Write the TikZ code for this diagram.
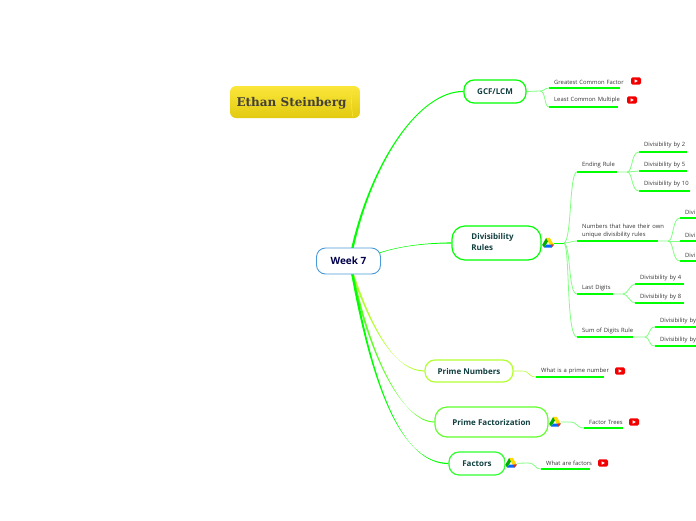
\documentclass[tikz,border=0pt]{standalone}
\usepackage{fontspec}
\setmainfont{Open Sans}
\newfontfamily\slabfont{DejaVu Serif}
\usetikzlibrary{backgrounds,calc}
\definecolor{lime}{HTML}{00FF00}
\definecolor{soft}{HTML}{80FF80}
\definecolor{teal}{HTML}{123F40}
\definecolor{yg}{HTML}{B4FF33}
\definecolor{mg}{HTML}{60FF28}
\definecolor{fg}{HTML}{30FF30}
\definecolor{capt}{HTML}{FBE63A}
\definecolor{capm}{HTML}{F5DC24}
\definecolor{capb}{HTML}{E2CA10}
\definecolor{weekb}{HTML}{4A9AD8}
\tikzset{
  x=1pt,y=-1pt,
  topic/.style={draw=#1,line width=1.2pt,rounded corners=10pt,fill=white,text=teal,inner sep=0pt,font=\fontsize{8}{11}\selectfont\bfseries},
  conn/.style={draw=#1,line width=.8pt},
  leafbox/.style={inner ysep=3.4pt,inner xsep=5pt,anchor=south west,align=left,font=\fontsize{5.85}{8}\selectfont,text=black!80},
  leafline/.style={draw=lime,line width=1.6pt},
}
% tapered connector: filled, wide at its start
\newcommand{\taper}[5]{\fill[#5] ($(#1)+(-1.2,0)$) .. controls ($(#2)+(-.7,0)$) and ($(#3)+(-.3,-.3)$) .. ($(#4)+(0,-.6)$) -- ($(#4)+(0,.6)$) .. controls ($(#3)+(.3,.3)$) and ($(#2)+(.7,0)$) .. ($(#1)+(1.2,0)$) -- cycle;}
\newcommand{\leaf}[5]{\node[leafbox,text width=#3-#2-10pt] (#1) at (#2,#4) {#5};
  \draw[leafline] (#1.south west) -- (#1.south east);}
\newcommand{\yt}[2]{\fill[red!95!black,rounded corners=1.5pt] (#1-5,#2-3.6) rectangle (#1+5,#2+3.6);
  \fill[white] (#1-1.4,#2-1.7) -- (#1+1.9,#2) -- (#1-1.4,#2+1.7) -- cycle;}
\newcommand{\drive}[2]{%
  \fill[white] (#1-6,#2-6) rectangle (#1+6,#2+6);
  \fill[green!60!black!80!lime] (#1-1.8,#2-5.2) -- (#1-5.8,#2+2) -- (#1-3.8,#2+4.6) -- (#1+.2,#2-2) -- cycle;
  \fill[orange!30!yellow] (#1-1.8,#2-5.2) -- (#1+1.8,#2-5.2) -- (#1+5.8,#2+1.8) -- (#1+1.6,#2+1.8) -- cycle;
  \fill[blue!60!cyan] (#1-3.8,#2+4.6) -- (#1+3.6,#2+4.6) -- (#1+5.8,#2+1.6) -- (#1-1.8,#2+1.6) -- cycle;
  \fill[red!75!orange] (#1+3.6,#2+4.6) -- (#1+5.8,#2+1.6) -- (#1+3,#2+1.6) -- cycle;}
\begin{document}
\begin{tikzpicture}
\useasboundingbox (0,0) rectangle (696,520);
% title capsule
\shade[top color=capt,middle color=capm,bottom color=capb,rounded corners=6pt] (230,86) rectangle (360,118);
\draw[capt,line width=.6pt] (353,87) .. controls (351,96) and (351,108) .. (353,117);
\node[font=\slabfont\bfseries\fontsize{12}{14}\selectfont,text=black!85!yellow,inner sep=0pt] (title) at (291.5,103) {Ethan Steinberg};
% main nodes
\node[draw=weekb,line width=.9pt,rounded corners=9pt,fill=white,minimum width=64pt,minimum height=26pt,inner sep=0pt,font=\fontsize{10}{12}\selectfont\bfseries,text=blue!30!black] (week) at (348.5,261) {Week 7};
\node[topic=lime,minimum width=62pt,minimum height=23pt] (gcf) at (495,91.5) {GCF/LCM};
\node[topic=lime,minimum width=89pt,minimum height=34pt,rounded corners=13pt,align=left] (div) at (496.5,243) {\raisebox{-2pt}[0pt][0pt]{\hspace*{-8pt}\begin{tabular}{@{}l@{}}Divisibility\\Rules\end{tabular}}};
\node[topic=yg,minimum width=88pt,minimum height=22pt] (prime) at (469,371) {Prime Numbers};
\node[topic=mg,minimum width=113pt,minimum height=30pt,rounded corners=12pt] (pfac) at (491.5,422) {Prime Factorization};
\node[topic=fg,minimum width=56pt,minimum height=23pt] (fac) at (477,463.5) {Factors};
% leaves
\leaf{gcfa}{549}{620}{88}{\mbox{Greatest Common Factor}}
\leaf{gcfb}{549}{618}{107}{\mbox{Least Common Multiple}}
\leaf{end}{577}{617}{172}{\mbox{Ending Rule}}
\leaf{uniq}{577}{658}{241}{\mbox{Numbers that have their own}\\\mbox{unique divisibility rules}}
\leaf{last}{577}{613}{294}{\mbox{Last Digits}}
\leaf{sum}{577}{633}{337}{\mbox{Sum of Digits Rule}}
\leaf{da}{639}{687}{152}{\mbox{Divisibility by 2}}
\leaf{db}{639}{687}{171}{\mbox{Divisibility by 5}}
\leaf{dc}{639}{690}{191}{\mbox{Divisibility by 10}}
\leaf{ua}{680}{696}{218}{\mbox{Divi}}
\leaf{ub}{680}{696}{241}{\mbox{Divi}}
\leaf{uc}{680}{696}{261}{\mbox{Divi}}
\leaf{la}{635}{684}{284}{\mbox{Divisibility by 4}}
\leaf{lb}{635}{684}{303}{\mbox{Divisibility by 8}}
\leaf{sa}{655}{696}{327}{\mbox{Divisibility by}}
\leaf{sb}{655}{696}{346}{\mbox{Divisibility by}}
\leaf{pa}{536}{604}{377}{\mbox{What is a prime number}}
\leaf{fa}{584}{623}{428}{\mbox{Factor Trees}}
\leaf{ca}{541}{590}{469}{\mbox{What are factors}}
% icons
\yt{636}{81}\yt{632}{100}\yt{620}{371}\yt{634}{422}\yt{603}{463}
\coordinate (spine) at (564,243);
\coordinate (gj) at (540,91);\coordinate (ej) at (627,172);\coordinate (uj) at (668,241);\coordinate (lj) at (623,294);\coordinate (sj) at (645,337);
\begin{scope}[on background layer]
\taper{352,250}{372,160}{420,91}{gcf.west}{lime}
\taper{366,258}{395,245}{430,243}{div.west}{lime}
\taper{352,272}{372,330}{395,371}{prime.west}{yg}
\taper{352,272}{372,365}{405,422}{pfac.west}{mg}
\taper{352,272}{375,400}{405,463}{fac.west}{lime}
\draw[conn=soft] (gcf.east) -- (gj) .. controls (545,91) and (544,88) .. (gcfa.south west);
\draw[conn=soft] (gj) .. controls (546,91) and (544,107) .. (gcfb.south west);
\draw[line width=1pt,draw=lime] (div.east) -- (spine);
\draw[conn=soft] (spine) .. controls (572,240) and (569,172) .. (end.south west);
\draw[conn=soft] (spine) .. controls (570,243) and (571,241) .. (uniq.south west);
\draw[conn=soft] (spine) .. controls (571,246) and (568,294) .. (last.south west);
\draw[conn=soft] (spine) .. controls (570,246) and (566,337) .. (sum.south west);
\draw[conn=soft] (end.south east) -- (ej) .. controls (633,172) and (631,152) .. (da.south west);
\draw[conn=soft] (ej) -- (db.south west);
\draw[conn=soft] (ej) .. controls (633,172) and (631,191) .. (dc.south west);
\draw[conn=soft] (uniq.south east) -- (uj) .. controls (674,241) and (672,218) .. (ua.south west);
\draw[conn=soft] (uj) -- (ub.south west);
\draw[conn=soft] (uj) .. controls (674,241) and (672,261) .. (uc.south west);
\draw[conn=soft] (last.south east) -- (lj) .. controls (628,294) and (630,284) .. (la.south west);
\draw[conn=soft] (lj) .. controls (628,294) and (630,303) .. (lb.south west);
\draw[conn=soft] (sum.south east) -- (sj) .. controls (650,337) and (648,327) .. (sa.south west);
\draw[conn=soft] (sj) .. controls (650,337) and (648,346) .. (sb.south west);
\draw[conn=yg,line width=.6pt] (prime.east) -- (522,371) .. controls (530,371) and (528,377) .. (pa.south west);
\draw[conn=soft] (pfac.east) -- (570,422) .. controls (578,422) and (576,428) .. (fa.south west);
\draw[conn=soft] (fac.east) -- (528,463) .. controls (536,463) and (534,469) .. (ca.south west);
\end{scope}
\drive{548}{243}\drive{555}{422}\drive{511}{463}
\end{tikzpicture}
\end{document}
